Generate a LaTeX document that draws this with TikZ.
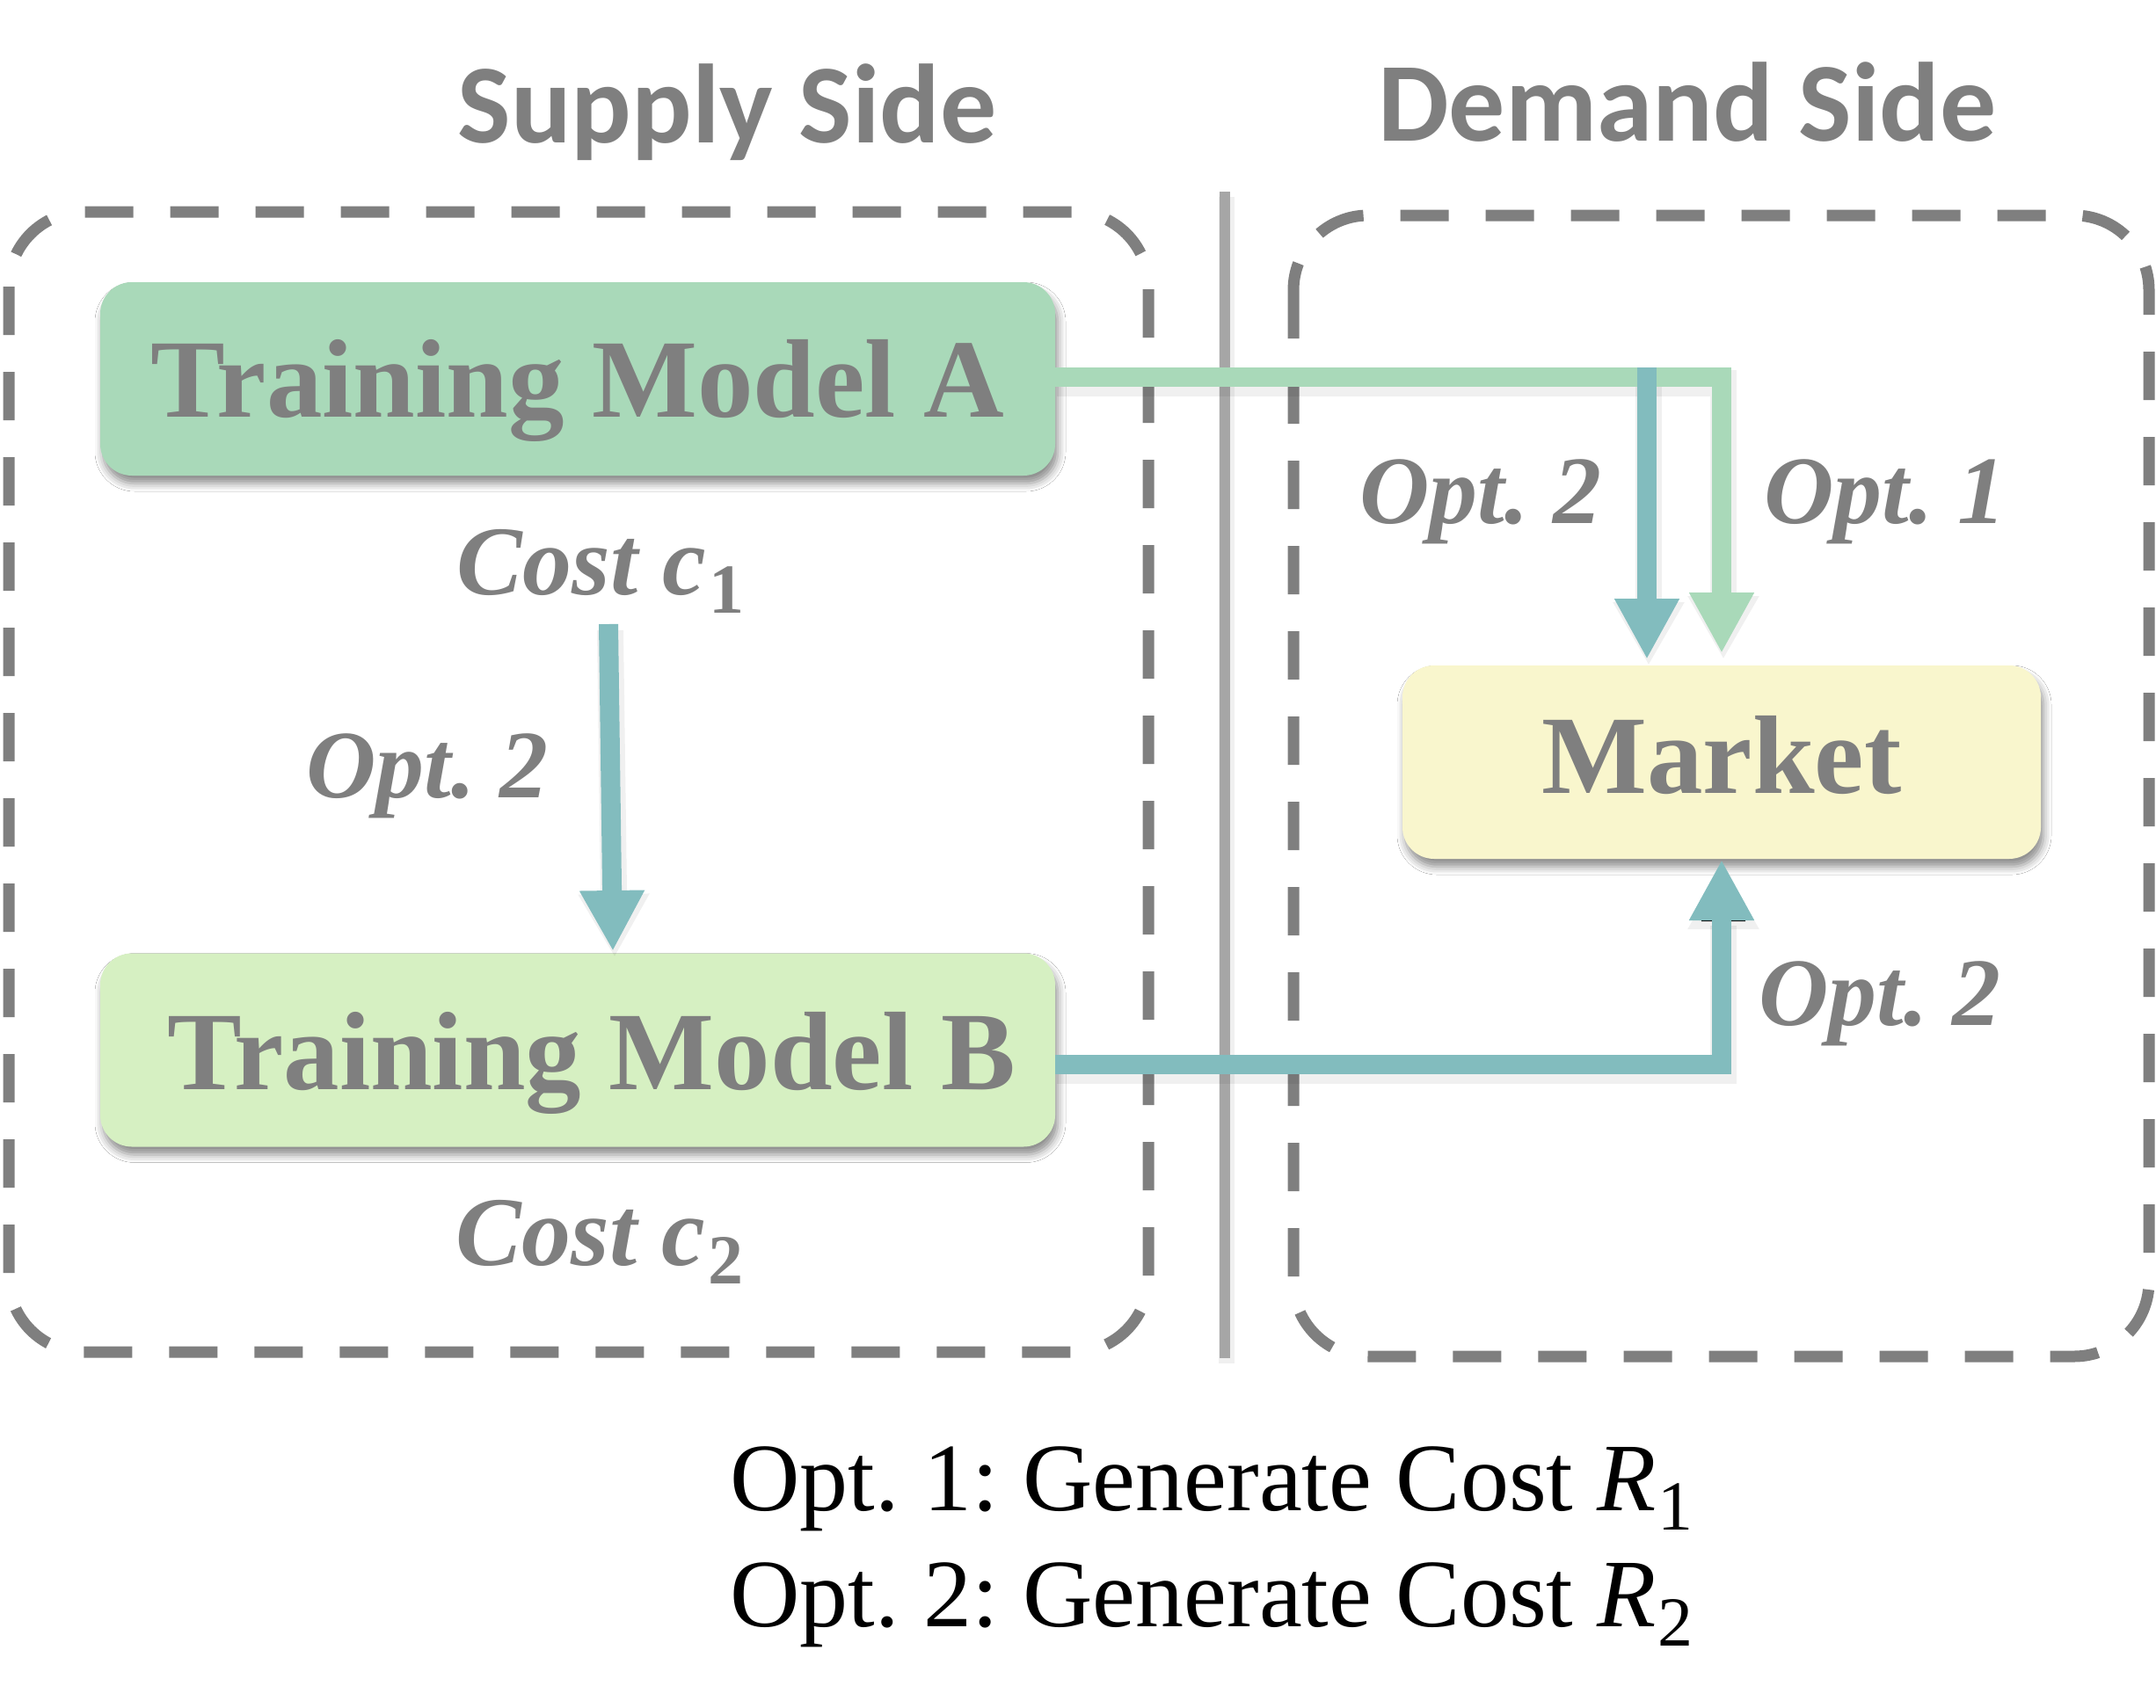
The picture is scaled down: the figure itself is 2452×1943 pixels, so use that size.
\documentclass[tikz,border=0pt]{standalone}
\usepackage{fontspec}
\setmainfont{Liberation Serif}
\newfontfamily\hdrfont{Carlito}
\usetikzlibrary{arrows.meta,shadows.blur}
\frenchspacing
\definecolor{txtgrey}{RGB}{127,127,127}
\definecolor{dashgrey}{RGB}{127,127,127}
\definecolor{divgrey}{RGB}{166,166,166}
\definecolor{fillA}{RGB}{169,217,185}
\definecolor{fillB}{RGB}{214,240,194}
\definecolor{fillM}{RGB}{249,246,205}
\definecolor{tealc}{RGB}{130,188,190}
\definecolor{greenc}{RGB}{169,217,185}
\tikzset{
  box/.style={rounded corners=36pt, minimum height=220pt, inner sep=0pt,
    text=txtgrey, font=\fontsize{127}{140}\selectfont\bfseries,
    blur shadow={shadow xshift=3pt, shadow yshift=-9pt, shadow blur radius=9pt, shadow opacity=45}},
  region/.style={draw=dashgrey, line width=13pt, dash pattern=on 55pt off 42pt, rounded corners=85pt},
  header/.style={anchor=base, text=txtgrey, font=\hdrfont\fontsize{128}{140}\selectfont\bfseries, inner sep=0pt},
  optlabel/.style={anchor=base, text=txtgrey, font=\fontsize{110}{120}\selectfont\bfseries\itshape, inner sep=0pt},
  costlabel/.style={anchor=base, text=txtgrey, font=\fontsize{112}{120}\selectfont, inner sep=0pt},
  legend/.style={anchor=base west, text=black, font=\fontsize{110}{120}\selectfont, inner sep=0pt},
  conn/.style={line width=22pt, -{Triangle[length=69pt, width=69pt]}},
  connshadow/.style={line width=30pt, draw=black, draw opacity=0.06, -{Triangle[length=72pt, width=76pt]},
    transform canvas={xshift=2pt, yshift=-7pt}},
  divider/.style={draw=divgrey, line width=12pt}
}
\newcommand{\subbf}[1]{\kern3pt\raisebox{-21pt}{\fontsize{80}{80}\selectfont\bfseries\upshape #1}}
\newcommand{\subrm}[1]{\kern1pt\raisebox{-22pt}{\fontsize{80}{80}\selectfont #1}}
\begin{document}
\begin{tikzpicture}[x=1pt, y=-1pt]
\fill[white] (0,0) rectangle (2452,1943);
\useasboundingbox (0,0) rectangle (2452,1943);

% headers
\node[header] (hsupply) at (827,162) {Supply Side};
\node[header] (hdemand) at (1919,160) {Demand Side};

% dashed regions
\draw[region] (10,241) rectangle (1306,1538);
\draw[region] (1471,245) rectangle (2444,1543);

% divider
\coordinate (dtop) at (1393,218);
\coordinate (dbot) at (1393,1545);
\draw[divider, draw=black, draw opacity=0.06, line width=18pt, transform canvas={xshift=2pt, yshift=-6pt}] (dtop) -- (dbot);
\draw[divider] (dtop) -- (dbot);

% boxes
\node[box, fill=fillA, minimum width=1086pt, text height=86pt, text depth=0pt] (ma) at (657,431) {Training Model A};
\node[box, fill=fillB, minimum width=1086pt, text height=89pt, text depth=0pt] (mb) at (657,1194.5) {\hspace*{32pt}Training Model B};
\node[box, fill=fillM, minimum width=726pt, text height=70pt, text depth=0pt] (mkt) at (1958,867) {Market};

% cost labels
\node[costlabel] (c1) at (683,676) {\textbf{\textit{Cost c}}\subbf{1}};
\node[costlabel] (c2) at (682,1439) {\textbf{\textit{Cost c}}\subbf{2}};

% connector coordinates
\coordinate (a2top) at (692,710);
\coordinate (bIn) at (697,1082);
\coordinate (aOut) at (1200,429);
\coordinate (g1) at (1958,743);
\coordinate (br) at (1873,418);
\coordinate (t1) at (1873,750);
\coordinate (bOut) at (1200,1211);
\coordinate (t2) at (1958,978);

% connector shadows
\draw[connshadow] (a2top) -- (bIn);
\draw[connshadow] (aOut) -| (g1);
\draw[connshadow] (br) -- (t1);
\draw[connshadow] (bOut) -| (t2);

% connectors
\draw[conn, draw=tealc] (a2top) -- (bIn);
\draw[conn, draw=greenc] (aOut) -| (g1);
\draw[conn, draw=tealc] (br) -- (t1);
\draw[conn, draw=tealc] (bOut) -| (t2);

% option labels
\node[optlabel] (o2a) at (486,907) {Opt. 2};
\node[optlabel] (o2b) at (1684,595) {Opt. 2};
\node[optlabel] (o1) at (2144,595) {Opt. 1};
\node[optlabel] (o2c) at (2138,1166) {Opt. 2};

% legend
\node[legend] (leg1) at (830,1718) {Opt. 1: Generate Cost \textit{R}\subrm{1}};
\node[legend] (leg2) at (830,1850) {Opt. 2: Generate Cost \textit{R}\subrm{2}};
\end{tikzpicture}
\end{document}
